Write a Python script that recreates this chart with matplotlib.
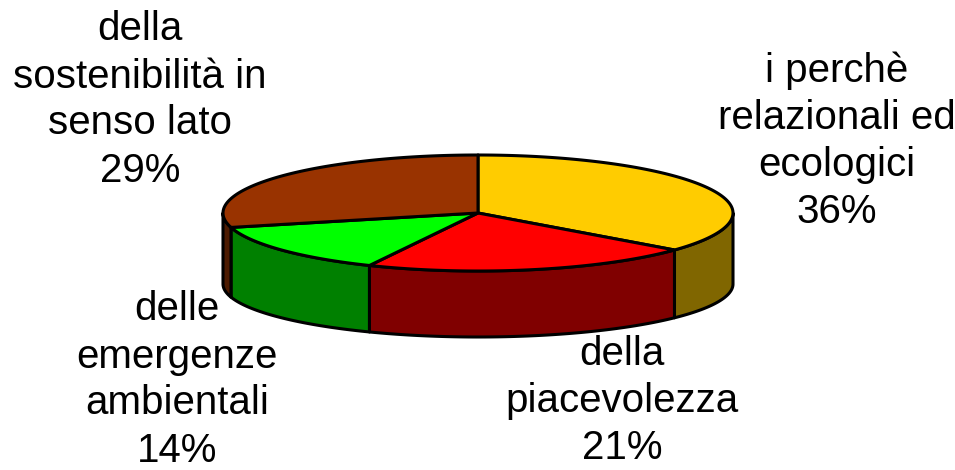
import numpy as np
import matplotlib
matplotlib.use("Agg")
import matplotlib.pyplot as plt
from matplotlib.patches import Polygon

labels = ["i perchè\nrelazionali ed\necologici", "della\npiacevolezza",
          "delle\nemergenze\nambientali", "della\nsostenibilità in\nsenso lato"]
values = [36, 21, 14, 29]
top_colors = ["#FFCC00", "#FF0000", "#00FF00", "#993300"]
side_colors = ["#806600", "#800000", "#008000", "#4D1A00"]
label_pos = [(837, 141), (622, 401), (177, 380), (140, 100)]

# pie geometry in pixels
cx, cy, rx, ry = 478, 213, 255, 58
cy_b, ry_b = 284, 53

fig = plt.figure(figsize=(9.55, 4.7), dpi=100)
ax = fig.add_axes([0, 0, 1, 1])
ax.set_xlim(0, 955)
ax.set_ylim(470, 0)
ax.axis("off")


def top_pt(t):
    return cx + rx * np.cos(t), cy - ry * np.sin(t)


def bot_pt(t):
    return cx + rx * np.cos(t), cy_b - ry_b * np.sin(t)


fracs = np.array(values) / sum(values)
start = 90.0
angles = []
for f in fracs:
    end = start - f * 360
    angles.append((start, end))
    start = end

# sides (front half only: angles between -180 and 0)
for (a1, a2), col in zip(angles, side_colors):
    hi = min(a1, 0)
    lo = max(a2, -180)
    if hi <= lo:
        continue
    t = np.radians(np.linspace(hi, lo, 80))
    xt, yt = top_pt(t)
    xb, yb = bot_pt(t[::-1])
    pts = np.column_stack([np.r_[xt, xb], np.r_[yt, yb]])
    ax.add_patch(Polygon(pts, closed=True, fc=col, ec="black", lw=2.2, joinstyle="round"))

# top faces
for (a1, a2), col in zip(angles, top_colors):
    t = np.radians(np.linspace(a1, a2, 120))
    xt, yt = top_pt(t)
    pts = np.column_stack([np.r_[cx, xt], np.r_[cy, yt]])
    ax.add_patch(Polygon(pts, closed=True, fc=col, ec="black", lw=2.2, joinstyle="round"))

for lab, v, (x, y) in zip(labels, values, label_pos):
    ax.text(x, y, f"{lab}\n{v}%", ha="center", va="center", fontsize=29,
            family="Liberation Sans", linespacing=1.30, multialignment="center")

fig.savefig("out.png", dpi=100)
